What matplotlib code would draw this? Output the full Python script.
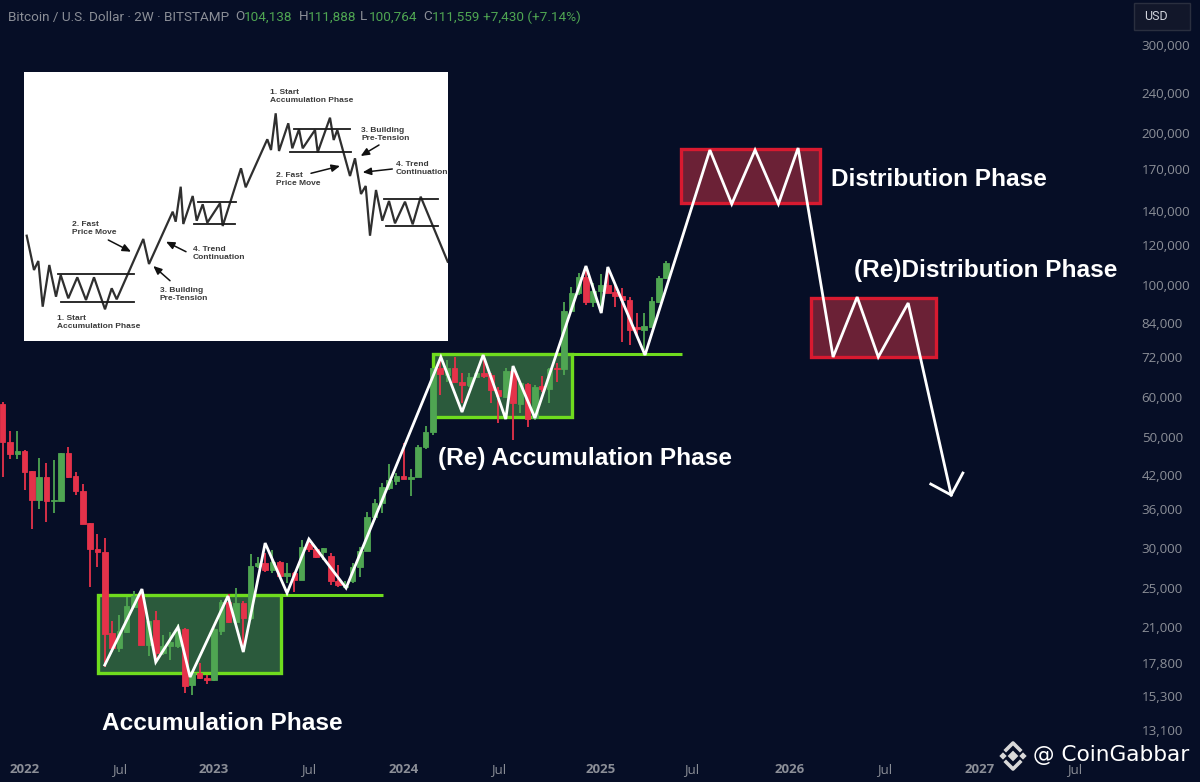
import matplotlib
matplotlib.use("Agg")
import matplotlib.pyplot as plt
import numpy as np
from matplotlib.patches import Rectangle

# 2W candles, oldest first
opens = [58050, 48870, 46120, 46900, 42740, 37440, 41640, 37260, 37320, 46470, 41840, 39010, 33750, 29920, 29560, 20410,
         19050, 20510, 22990, 24130, 19300, 21630, 18570, 19230, 19230, 20760, 16070, 16950, 16570, 16440, 20600, 23520,
         21460, 23340, 21830, 27680, 28110, 27190, 28240, 26450, 26850, 25970, 30610, 29870, 29550, 28980, 25890, 25190,
         25890, 27520, 29690, 34590, 36990, 39520, 40830, 41840, 41260, 41530, 47610, 51160, 68330, 66280, 68330, 64290,
         63220, 65770, 66980, 66280, 61880, 60010, 67600, 58050, 63610, 54360, 63030, 62080, 68330, 68010, 88940, 96260,
         103570, 92670, 97450, 100160, 97000, 95110, 93380, 82400, 81410, 82700, 92670, 103100]
highs = [58680, 51390, 51390, 47040, 42740, 45420, 44260, 44940, 46470, 47760, 42480, 40270, 33750, 32040, 31420, 21560,
         22130, 23990, 24730, 24810, 21560, 22570, 20200, 20510, 21210, 20820, 17080, 17740, 16820, 20820, 23700, 24360,
         25000, 23630, 29250, 28890, 29330, 29790, 28370, 28020, 26980, 31180, 31270, 30150, 30020, 29330, 27810, 25900,
         28020, 30150, 35490, 37550, 40390, 44130, 42280, 48650, 43070, 48120, 52490, 68330, 72070, 70970, 71840, 66780,
         66780, 67600, 72620, 66780, 62840, 68330, 68840, 64290, 63800, 63310, 65970, 68330, 69900, 92670, 98950, 105800,
         108750, 100770, 105160, 108750, 100770, 98490, 94820, 87850, 87850, 94820, 104210, 111560]
lows = [41520, 45080, 45080, 39190, 32740, 35870, 33900, 35320, 37320, 41320, 38240, 33540, 25110, 27600, 17470, 18710,
        18710, 20350, 22810, 19300, 18350, 18010, 18430, 18010, 19000, 15510, 15350, 16490, 16150, 16390, 20200, 21300,
        21300, 19150, 21630, 27390, 26980, 26850, 26370, 25580, 24620, 25970, 29550, 28670, 28450, 25380, 25110, 25000,
        25660, 26370, 29690, 34160, 35320, 39160, 40080, 41140, 38180, 41530, 47180, 50390, 60490, 64290, 64000, 58220,
        62840, 65270, 65270, 58220, 53140, 59570, 49240, 55620, 52180, 53950, 61410, 58220, 64290, 66280, 88670, 95540,
        91270, 90560, 87850, 96260, 90560, 77190, 76030, 79560, 74310, 82400, 92000, 102620]
closes = [48870, 46120, 46900, 42610, 37440, 41640, 37320, 37500, 46470, 41520, 38940, 33540, 29880, 29560, 20290, 19000,
          20600, 23060, 24130, 19330, 21560, 18570, 19230, 19590, 20760, 16020, 16950, 16570, 16440, 20730, 23520, 21460,
          23340, 21830, 27680, 28110, 27190, 28240, 26450, 26850, 25970, 30230, 29870, 28890, 30020, 25890, 25380, 25300,
          27610, 29690, 34690, 36990, 39650, 41010, 41840, 41140, 41650, 47760, 51160, 68330, 66480, 68330, 64290, 63220,
          65770, 66980, 65970, 61880, 60220, 67600, 58220, 63800, 54120, 62840, 62080, 68010, 68010, 88940, 96260, 103570,
          92670, 97450, 100160, 96260, 95110, 93380, 81410, 81670, 82920, 92930, 103100, 110740]

# the white hand drawn path
path_bars = [14.0, 19.1, 21.0, 24.05, 25.7, 30.9, 33.0, 36.0, 39.0, 42.0, 47.1, 60.1, 63.0, 65.9, 69.0, 70.0, 73.0, 80.0,
             82.1, 83.0, 88.1, 97.0, 100.0, 103.2, 106.4, 109.1, 113.9, 117.2, 120.1, 124.2, 130.1]
path_prices = [17610, 24920, 17850, 20950, 16670, 24140, 18690, 30750, 24470, 31320, 25040, 71960, 55970, 72620, 54200,
               69060, 54450, 109070, 87990, 108580, 72620, 185340, 144800, 185340, 144800, 187040, 71960, 94660, 71960,
               92100, 38300]
head_bars = [127.3, 130.1, 131.7]
head_prices = [40270, 38300, 42350]

# phase boxes: bar from, bar to, price low, price high
green_boxes = [(13.07, 38.2, 16980, 24250), (59.0, 78.1, 54700, 72950)]
red_boxes = [(93.05, 112.1, 145470, 186180), (110.9, 128.0, 71960, 94230)]
# level lines: bar from, bar to, price
levels = [(38.2, 52.2, 24250), (78.1, 93.2, 72950)]

price_ticks = [300000, 240000, 200000, 170000, 140000, 120000, 100000, 84000, 72000, 60000, 50000, 42000, 36000, 30000,
               25000, 21000, 17800, 15300, 13100]
time_ticks = [3, 16, 29, 42, 55, 68, 82, 94.5, 108, 121, 134, 147]
time_labels = ["2022", "Jul", "2023", "Jul", "2024", "Jul", "2025", "Jul", "2026", "Jul", "2027", "Jul"]

# inset sketch, in its own units
sketch_x = [26.7, 34, 38.3, 42.7, 49.3, 56, 60.7, 68.3, 77.3, 86, 94, 105, 111.7, 116.7, 143.3, 149, 172.7, 175.7, 180.7,
            183.3, 192.7, 196.7, 202.7, 207.3, 220, 222.7, 241, 245.7, 267.3, 271, 275.7, 279, 288.3, 292.3, 299, 302.7,
            315, 317.7, 330, 333.7, 337.3, 350, 355, 361, 365.7, 370, 376, 382.3, 389, 395, 405, 412.7, 420.7, 447.7]
sketch_y = [235.7, 270, 261, 306.7, 265, 296.7, 275, 298.3, 277.3, 300, 277.3, 309.3, 288.3, 299.3, 239, 264, 211.7, 221.7,
            186.7, 224, 196, 220.7, 204.3, 222.7, 203.3, 226, 168.3, 187.3, 139.3, 150, 113.3, 151, 123.3, 148.3, 129.3,
            148.3, 130, 152.3, 117.7, 140, 130, 176, 158.3, 194, 186, 235.7, 190, 220.7, 201, 223.3, 201.7, 224.3, 196.7,
            261.7]
sketch_levels = [(58.3, 134, 274), (60.7, 134, 301.7), (197.7, 236, 202.3), (194.3, 235, 224.3),
                 (294, 350, 129), (290, 350.7, 151.7), (384, 438.3, 198.7), (386, 438.3, 226.3)]
sketch_arrows = [(108.3, 240, 131, 251.7), (186, 251.7, 166, 241.7), (170, 280.7, 153.3, 266),
                 (311, 173.3, 340, 166), (379, 145, 360.7, 156), (392.3, 169, 362.7, 172.3)]
sketch_notes = [(56.7, 322.5, "1. Start\nAccumulation Phase"), (72, 228, "2. Fast\nPrice Move"),
                (159.5, 294, "3. Building\nPre-Tension"), (193, 253.5, "4. Trend\nContinuation"),
                (270, 97, "1. Start\nAccumulation Phase"), (361, 135, "3. Building\nPre-Tension"),
                (276, 179.5, "2. Fast\nPrice Move"), (396, 168.5, "4. Trend\nContinuation")]

bg = "#060e26"
up = "#4fa552"
down = "#e5324a"
lime = "#6fdc1e"
crimson = "#d81a30"
grey = "#8b8e97"

fig = plt.figure(figsize=(12, 7.82), dpi=100, facecolor=bg)
ax = fig.add_axes([0, 26 / 782, 1132 / 1200, 756 / 782], facecolor=bg)
ax.set_yscale("log")
ax.set_xlim(-0.37, 154.9)
ax.set_ylim(11620, 367900)

# phase boxes go under the candles, edges over them
for x0, x1, lo, hi in green_boxes:
    ax.add_patch(Rectangle((x0, lo), x1 - x0, hi - lo, facecolor="#2b5a3c", edgecolor="none", zorder=1))
    ax.add_patch(Rectangle((x0, lo), x1 - x0, hi - lo, facecolor="none", edgecolor=lime, lw=2.4, zorder=1.5))
for x0, x1, price in levels:
    ax.plot([x0, x1], [price, price], color=lime, lw=2.2, zorder=1.5, solid_capstyle="butt")
for x0, x1, lo, hi in red_boxes:
    ax.add_patch(Rectangle((x0, lo), x1 - x0, hi - lo, facecolor="#6b2136", edgecolor=crimson, lw=2.4, zorder=1))

# candles
bars = np.arange(len(opens))
o = np.array(opens, dtype=float)
c = np.array(closes, dtype=float)
colors = [up if b >= a else down for a, b in zip(o, c)]
ax.vlines(bars, lows, highs, colors=colors, lw=1.3, zorder=2)
ax.bar(bars, np.abs(c - o), bottom=np.minimum(o, c), width=0.76, color=colors, edgecolor=colors, lw=0.6, zorder=2)

ax.plot(path_bars, path_prices, color="white", lw=2.0, zorder=4, solid_joinstyle="miter")
ax.plot(head_bars, head_prices, color="white", lw=2.0, zorder=4, solid_joinstyle="miter")

# axes
for side in ax.spines.values():
    side.set_visible(False)
ax.yaxis.tick_right()
ax.set_yticks(price_ticks)
ax.set_yticklabels([f"{p:,}" for p in price_ticks])
ax.minorticks_off()
ax.tick_params(axis="y", length=0, pad=7, labelcolor=grey, labelsize=9.6)
ax.set_xticks(time_ticks)
ax.set_xticklabels(time_labels)
ax.tick_params(axis="x", length=0, pad=5, labelcolor=grey, labelsize=9.5)
for lab, name in zip(ax.get_xticklabels(), time_labels):
    if name != "Jul":
        lab.set_fontweight("bold")
for lab in ax.get_yticklabels() + ax.get_xticklabels():
    lab.set_family("Open Sans")

# inset sketch
ins = fig.add_axes([24 / 1200, 1 - 341 / 782, 424 / 1200, 269 / 782], facecolor="white", zorder=5)
ins.set_xlim(24, 448)
ins.set_ylim(341, 72)
ins.set_xticks([])
ins.set_yticks([])
for side in ins.spines.values():
    side.set_visible(False)
ins.plot(sketch_x, sketch_y, color="#2f2f2f", lw=1.6, solid_joinstyle="miter")
for x0, x1, y in sketch_levels:
    ins.plot([x0, x1], [y, y], color="#1a1a1a", lw=1.3)
for x0, y0, x1, y1 in sketch_arrows:
    ins.annotate("", xy=(x1, y1), xytext=(x0, y0),
                 arrowprops=dict(arrowstyle="-|>,head_length=0.5,head_width=0.22", color="#111111", lw=1.1,
                                 shrinkA=0, shrinkB=0))
for x, y, note in sketch_notes:
    ins.text(x, y, note, fontsize=6.0, fontweight="bold", color="#3a3a3a", va="center", ha="left",
             family="Liberation Sans", linespacing=1.2)

# labels on top, placed in picture pixels
def put(x, y, s, **kw):
    fig.text(x / 1200, 1 - y / 782, s, va="center", **kw)

phase_font = dict(color="white", fontweight="bold", fontsize=17.6, family="Liberation Sans")
put(102, 724, "Accumulation Phase", **phase_font)
put(438, 458, "(Re) Accumulation Phase", **phase_font)
put(831, 180, "Distribution Phase", **phase_font)
put(854, 271, "(Re)Distribution Phase", **phase_font)

head_font = dict(fontsize=9.7, family="Roboto")
put(8, 17, "Bitcoin / U.S. Dollar · 2W · BITSTAMP", color=grey, **head_font)
for x, key, val in [(235, "O", "104,138"), (299, "H", "111,888"), (360, "L", "100,764"), (423, "C", "111,559")]:
    put(x, 17, key, color=grey, **head_font)
    put(x + 9, 17, val, color=up, **head_font)
put(483, 17, "+7,430 (+7.14%)", color=up, **head_font)

# USD button
fig.patches.append(Rectangle((1134 / 1200, 1 - 30 / 782), 56 / 1200, 27 / 782, transform=fig.transFigure,
                             facecolor="#12172a", edgecolor="#2a2f3f", lw=1))
put(1144, 16, "USD", color="#d1d4dc", fontsize=9, family="Roboto")

# watermark
over = fig.add_axes([0, 0, 1, 1], facecolor="none", zorder=6)
over.set_xlim(0, 1200)
over.set_ylim(782, 0)
over.axis("off")
logo = "#d8d8d8"
over.plot([1006, 1013, 1020], [750, 743, 750], color=logo, lw=2.6)
over.plot([1006, 1013, 1020], [762, 769, 762], color=logo, lw=2.6)
over.scatter([1003, 1013, 1023], [756, 756, 756], marker="D", s=[14, 30, 14], color=logo, lw=0)
over.text(1033, 755, "@ CoinGabbar", color="white", fontsize=15.6, family="DejaVu Sans", va="center")

fig.savefig("out.png", dpi=100, facecolor=bg)
